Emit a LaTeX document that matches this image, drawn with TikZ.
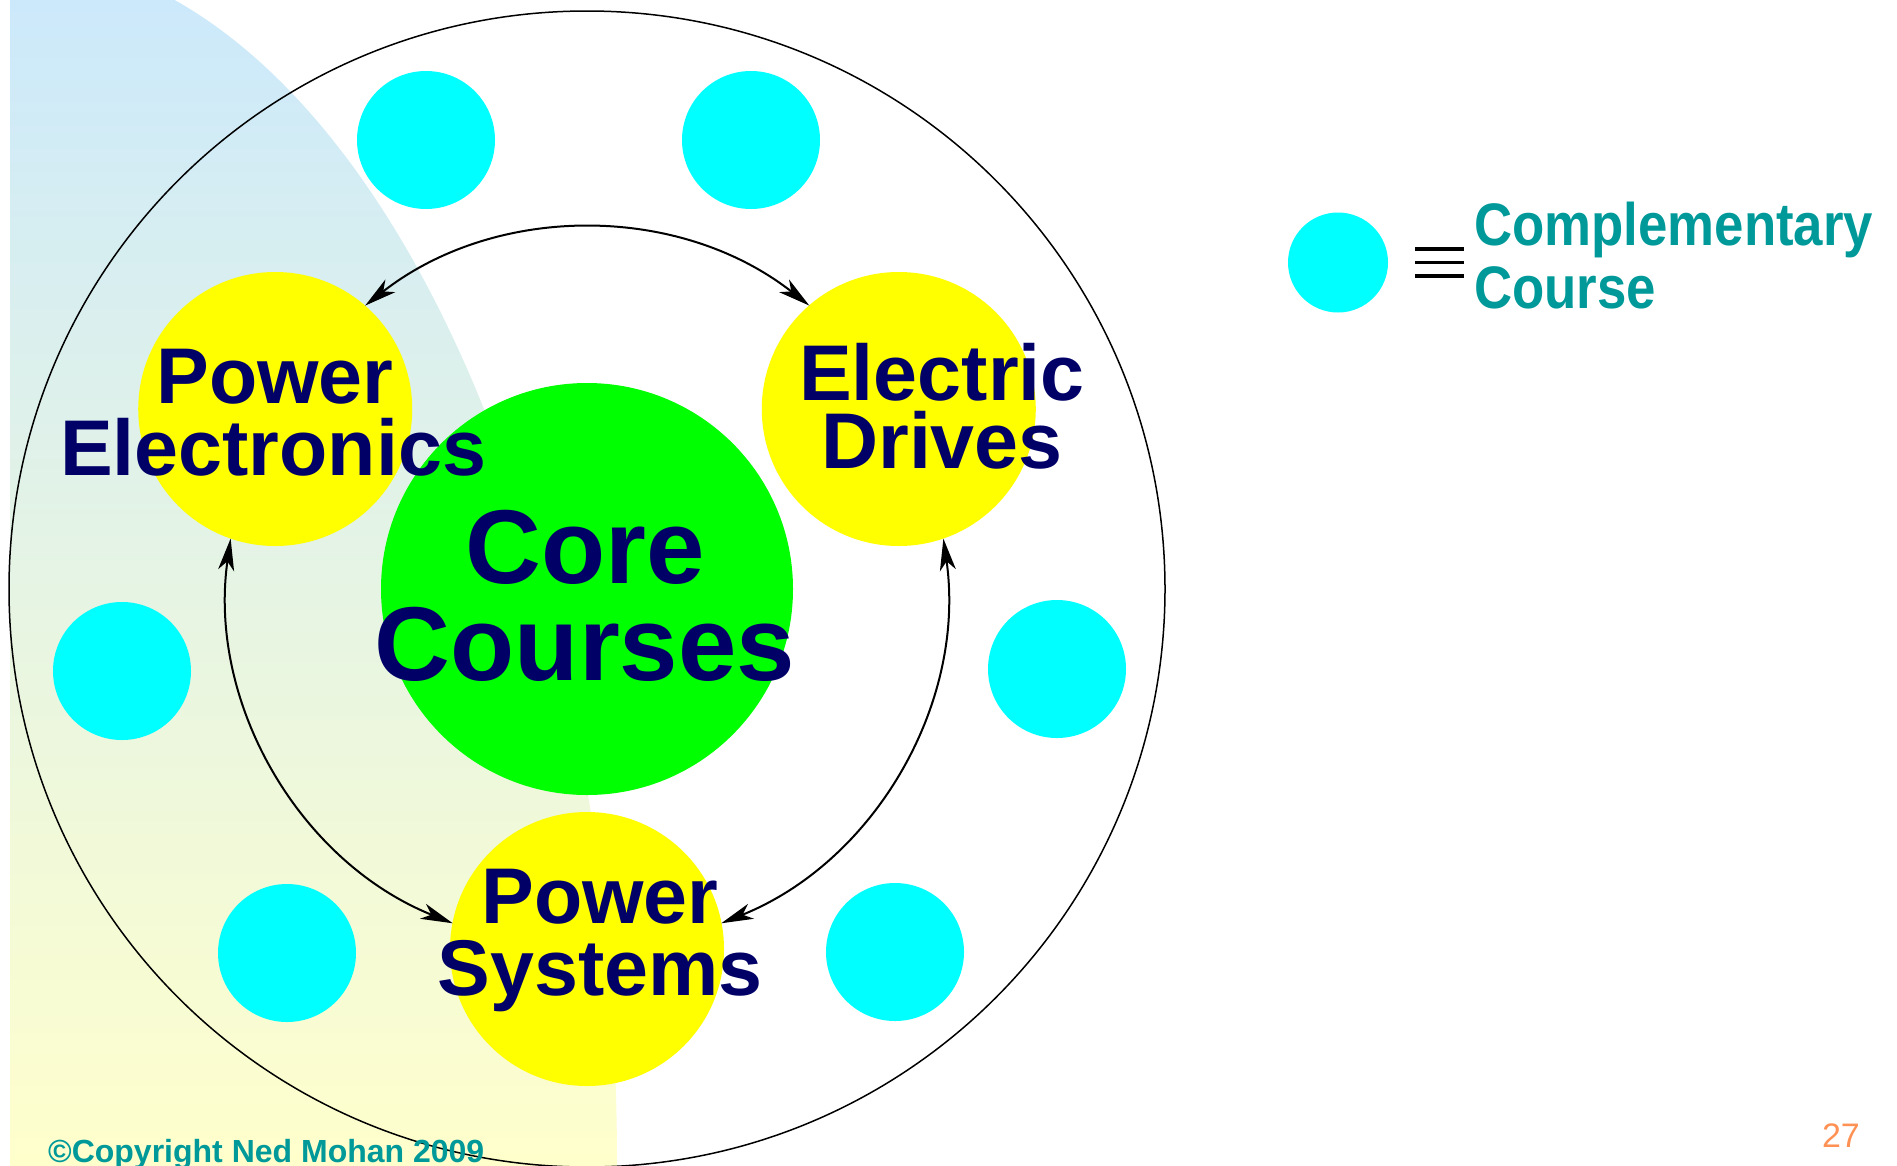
\documentclass[tikz,border=0pt]{standalone}
\usepackage{fontspec}
\setmainfont{Liberation Sans}
\newfontfamily\condfont{Liberation Sans}[FakeStretch=0.88]
\usetikzlibrary{arrows.meta}
\definecolor{navy}{RGB}{0,0,102}
\definecolor{teal2}{RGB}{0,153,153}
\definecolor{aqua}{RGB}{0,255,255}
\definecolor{lime2}{RGB}{0,255,0}
\definecolor{yel}{RGB}{255,255,0}
\definecolor{orng}{RGB}{255,145,85}
\definecolor{bgtop}{RGB}{204,233,251}
\definecolor{bgbot}{RGB}{255,255,204}
\begin{document}
\begin{tikzpicture}[x=1pt,y=1pt,
  disc/.style={circle, inner sep=0pt, outer sep=0pt},
  compl/.style={disc, fill=aqua, minimum size=138pt},
  major/.style={disc, fill=yel, minimum size=274pt},
  lbl/.style={text=navy, font=\bfseries\fontsize{79}{79}\selectfont, anchor=base, inner sep=0pt},
  corelbl/.style={text=navy, font=\bfseries\fontsize{105}{105}\selectfont, anchor=base, inner sep=0pt},
  legtxt/.style={text=teal2, font=\condfont\bfseries\fontsize{60}{60}\selectfont, anchor=base west, inner sep=0pt},
  arr/.style={line width=2pt, {Stealth[length=32pt,width=16pt,inset=9pt]}-{Stealth[length=32pt,width=16pt,inset=9pt]}}
]
\useasboundingbox (0,-1165) rectangle (1897,0);
% background gradient
\begin{scope}
  \clip (10,-1165) rectangle (640,0);
  \clip (10,-1165) ellipse [x radius=607, y radius=1210];
  \shade[top color=bgtop, bottom color=bgbot] (10,-1165) rectangle (640,0);
\end{scope}
% outer ring
\coordinate (ctr) at (587,-589);
\node[disc, draw=black, line width=1.5pt, minimum size=1156pt] (outer) at (ctr) {};
% complementary courses
\node[compl] (c1) at (751,-140) {};
\node[compl] (c2) at (426,-140) {};
\node[compl] (c3) at (122,-671) {};
\node[compl] (c4) at (287,-953) {};
\node[compl] (c5) at (895,-952) {};
\node[compl] (c6) at (1057,-669) {};
% core
\node[disc, fill=lime2, minimum size=412pt] (core) at (ctr) {};
% major areas
\path (ctr) ++(150:360) node[major] (pe) {};
\path (ctr) ++(30:360) node[major] (ed) {};
\path (ctr) ++(270:360) node[major] (ps) {};
% arrows
\draw[arr] (pe.49) arc[start angle=128.1, end angle=51.9, radius=360];
\draw[arr] (pe.251) arc[start angle=171.9, end angle=248.1, radius=360];
\draw[arr] (ed.289) arc[start angle=8.1, end angle=-68.1, radius=360];
% labels
\node[lbl] (pe1) at (275,-403) {Power};
\node[lbl] (pe2) at (273,-475) {Electronics};
\node[lbl] (ed1) at (942,-400) {Electric};
\node[lbl] (ed2) at (942,-468) {Drives};
\node[corelbl] (cc1) at (585,-583) {Core};
\node[corelbl] (cc2) at (585,-680) {Courses};
\node[lbl] (ps1) at (600,-923) {Power};
\node[lbl] (ps2) at (600,-995) {Systems};
% legend
\node[compl, minimum size=100pt] (lc) at (1338,-262.5) {};
\draw[line width=3.6pt] (1415,-249) -- (1464,-249);
\draw[line width=3.6pt] (1415,-262.5) -- (1464,-262.5);
\draw[line width=3.6pt] (1415,-276) -- (1464,-276);
\node[legtxt] (lt1) at (1474,-245) {Complementary};
\node[legtxt] (lt2) at (1474,-308) {Course};
% footer
\node[text=teal2, font=\bfseries\fontsize{32}{32}\selectfont, anchor=base west, inner sep=0pt] (copy) at (48,-1162) {©Copyright Ned Mohan 2009};
\node[text=orng, font=\fontsize{34}{34}\selectfont, anchor=base east, inner sep=0pt] (pg) at (1860,-1147) {27};
\end{tikzpicture}
\end{document}
